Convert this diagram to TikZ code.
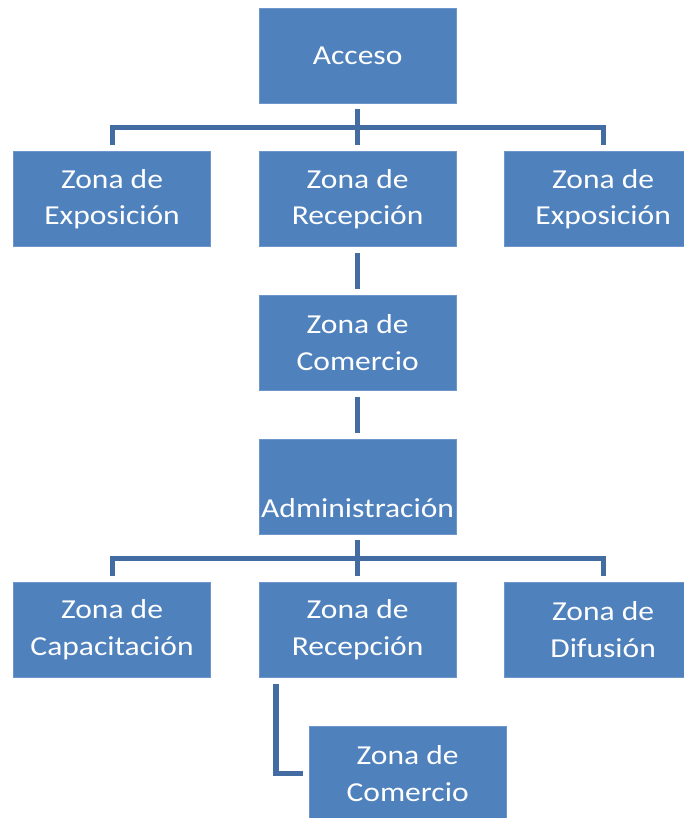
\documentclass[tikz,border=0pt]{standalone}
\usepackage{fontspec}
\setmainfont{Carlito}[FakeStretch=1.15]
\usepackage{xcolor}
\usepackage{tikz}
\usetikzlibrary{positioning,calc}
\definecolor{zonefill}{RGB}{79,129,189}
\definecolor{zoneedge}{RGB}{110,150,205}
\definecolor{zoneline}{RGB}{66,108,162}

\begin{document}
\begin{tikzpicture}[node distance=1.2cm]
    \tikzstyle{zone}=[draw=zoneedge, line width=0.4pt, fill=zonefill, text=white, minimum width=4.925cm, minimum height=2.375cm, inner xsep=0pt, align=center, font=\fontsize{19.5}{26}\selectfont]
    \tikzstyle{link}=[draw=zoneline, line width=3.6pt]
    \useasboundingbox (0,0) rectangle (17.1,-20.45);
    \clip (0,0) rectangle (17.1,-20.45);
    % top level
    \node[zone] (acceso) at (8.94,-1.39) {Acceso};
    \node[zone, below=of acceso] (rec1) {Zona de\\Recepción};
    \node[zone, left=of rec1] (expo1) {Zona de\\Exposición};
    \node[zone, right=of rec1] (expo2) {Zona de\\Exposición};
    \node[zone, below=of rec1] (com1) {Zona de\\Comercio};
    \node[zone, below=of com1] (admin) {\strut\\Administración};
    % lower level
    \node[zone, below=of admin] (rec2) {Zona de\\Recepción};
    \node[zone, left=of rec2] (capac) {Zona de\\Capacitación};
    \node[zone, right=of rec2] (difus) {Zona de\\Difusión};
    \node[zone, below=1.2cm of rec2, xshift=1.25cm] (com2) {Zona de\\Comercio};
    % connectors
    \coordinate (bar1) at ($(acceso.south)!0.5!(rec1.north)$);
    \coordinate (bar2) at ($(admin.south)!0.5!(rec2.north)$);
    \draw[link] ($(acceso.south)+(0,-0.15)$) -- ($(rec1.north)+(0,0.15)$);
    \draw[link] ($(expo1.north)+(0,0.15)$) |- (bar1) -| ($(expo2.north)+(0,0.15)$);
    \draw[link] ($(rec1.south)+(0,-0.15)$) -- ($(com1.north)+(0,0.15)$);
    \draw[link] ($(com1.south)+(0,-0.15)$) -- ($(admin.north)+(0,0.15)$);
    \draw[link] ($(admin.south)+(0,-0.15)$) -- ($(rec2.north)+(0,0.15)$);
    \draw[link] ($(capac.north)+(0,0.15)$) |- (bar2) -| ($(difus.north)+(0,0.15)$);
    \draw[link] ($(rec2.south west)+(0.43,-0.17)$) |- ($(com2.west)+(-0.15,0)$);
  \end{tikzpicture}
\end{document}
